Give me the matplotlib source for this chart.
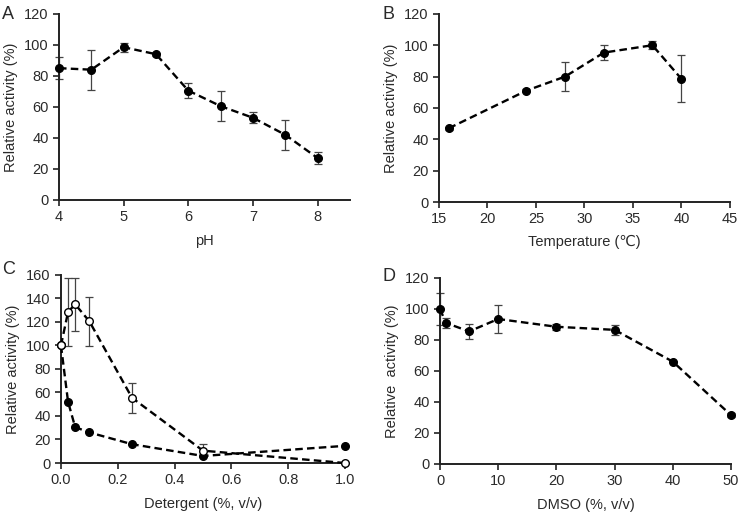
import numpy as np
from matplotlib import pyplot as plt

plt.rcParams['font.family'] = ['Liberation Sans', 'DejaVu Sans']
plt.rcParams['font.size'] = 10.5

# panel A - pH
ph = [4, 4.5, 5, 5.5, 6, 6.5, 7, 7.5, 8]
ph_act = [85, 84, 98.5, 94, 70.5, 60.5, 53, 42, 27]
ph_err = [7, 13, 3, 1, 5, 9.5, 3.5, 9.8, 4]

# panel B - temperature
temp = [16, 24, 28, 32, 37, 40]
temp_act = [47, 71, 80, 95.3, 100, 78.5]
temp_err = [0.8, 0.8, 9, 5, 2.5, 15]

# panel C - detergent
det = [0, 0.025, 0.05, 0.1, 0.25, 0.5, 1.0]
det_open = [100, 128.5, 135, 120.5, 55.5, 10.5, 0]
det_open_err = [0, 29, 22.5, 21, 12.7, 5.5, 0]
det_filled = [100, 52, 30.5, 26, 16, 6, 14.6]

# panel D - DMSO
dmso = [0, 1, 5, 10, 20, 30, 40, 50]
dmso_act = [100, 91, 85.5, 93.5, 88.5, 86.5, 66, 31.5]
dmso_err = [10.5, 3, 5, 9, 2, 3, 0.5, 1.5]

fig = plt.figure(figsize=(7.39, 5.14), dpi=100)

axA = fig.add_axes([0.0798, 0.611, 0.3938, 0.362])
axB = fig.add_axes([0.594, 0.607, 0.3938, 0.366])
axC = fig.add_axes([0.0825, 0.0992, 0.3843, 0.366])
axD = fig.add_axes([0.5954, 0.0973, 0.3938, 0.362])

txt = '#2a2a2a'
line_kw = dict(color='black', linestyle=(0, (3.2, 1.8)), linewidth=1.7,
               marker='o', markersize=5.5, clip_on=False, zorder=3)
err_kw = dict(fmt='none', ecolor='#444444', elinewidth=0.9, capsize=3,
              capthick=0.9, clip_on=False, zorder=2)


def style(ax):
    for s in ['top', 'right']:
        ax.spines[s].set_visible(False)
    for s in ['left', 'bottom']:
        ax.spines[s].set_linewidth(1.4)
        ax.spines[s].set_color('#222222')
    ax.tick_params(direction='out', length=4, width=1.2, pad=3.5,
                   colors='#222222', labelcolor=txt, labelsize=10.5)


axA.errorbar(ph, ph_act, yerr=ph_err, **err_kw)
axA.plot(ph, ph_act, markerfacecolor='black', **line_kw)
axA.set_xlim(4, 8.5)
axA.set_ylim(0, 120)
axA.set_xticks([4, 5, 6, 7, 8])
axA.set_yticks(np.arange(0, 121, 20))
axA.set_xlabel('pH', color=txt, labelpad=7)
axA.set_ylabel('Relative activity (%)', color=txt)
style(axA)

axB.errorbar(temp, temp_act, yerr=temp_err, **err_kw)
axB.plot(temp, temp_act, markerfacecolor='black', **line_kw)
axB.set_xlim(15, 45)
axB.set_ylim(0, 120)
axB.set_xticks(np.arange(15, 46, 5))
axB.set_yticks(np.arange(0, 121, 20))
axB.set_xlabel('Temperature (\u2103)', color=txt, labelpad=6)
axB.set_ylabel('Relative activity (%)', color=txt)
style(axB)

axC.plot(det, det_filled, markerfacecolor='black', **line_kw)
axC.errorbar(det, det_open, yerr=det_open_err, **err_kw)
axC.plot(det, det_open, markerfacecolor='white', markeredgewidth=1.0, **line_kw)
axC.set_xlim(0, 1.0)
axC.set_ylim(0, 160)
axC.set_xticks(np.arange(0, 1.01, 0.2))
axC.set_xticklabels(['0.0', '0.2', '0.4', '0.6', '0.8', '1.0'])
axC.set_yticks(np.arange(0, 161, 20))
axC.set_xlabel('Detergent (%, v/v)', color=txt, labelpad=7)
axC.set_ylabel('Relative activity (%)', color=txt)
style(axC)

axD.errorbar(dmso, dmso_act, yerr=dmso_err, **err_kw)
axD.plot(dmso, dmso_act, markerfacecolor='black', **line_kw)
axD.set_xlim(0, 50)
axD.set_ylim(0, 120)
axD.set_xticks(np.arange(0, 51, 10))
axD.set_yticks(np.arange(0, 121, 20))
axD.set_xlabel('DMSO (%, v/v)', color=txt, labelpad=7)
axD.set_ylabel('Relative  activity (%)', color=txt)
style(axD)

fig.text(0.003, 0.972, 'A', fontsize=13, color=txt, va='center')
fig.text(0.518, 0.972, 'B', fontsize=13, color=txt, va='center')
fig.text(0.003, 0.475, 'C', fontsize=13, color=txt, va='center')
fig.text(0.518, 0.462, 'D', fontsize=13, color=txt, va='center')

fig.savefig('out.png', dpi=100, facecolor='white')
